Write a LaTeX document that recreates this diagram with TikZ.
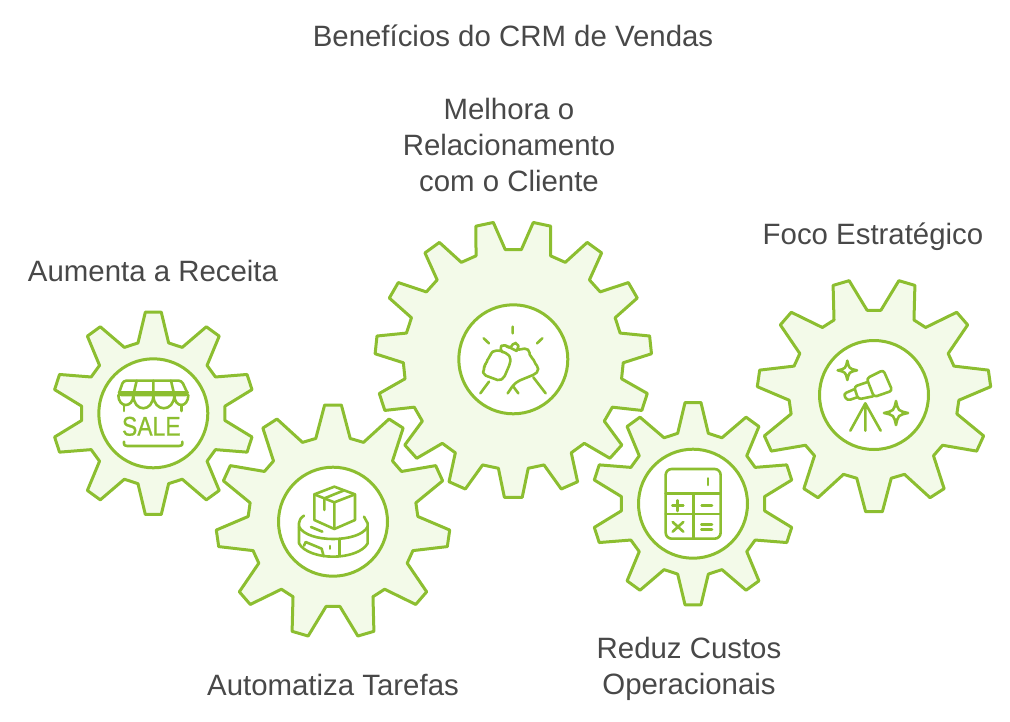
\documentclass[tikz,border=0pt]{standalone}
\usepackage{fontspec}
\setmainfont{Liberation Sans}
\newfontfamily\saleface[FakeBold=0.8]{Liberation Sans}
\usepackage{xcolor}
\usetikzlibrary{positioning, calc}
\definecolor{gearline}{HTML}{8CBE30}
\definecolor{gearfill}{HTML}{F3FAE9}
\definecolor{labeltext}{HTML}{484848}
\tikzset{
  gearbody/.style={draw=gearline, fill=gearfill, line width=3pt, line join=round},
  hubring/.style={draw=gearline, fill=white, line width=3pt, circle, inner sep=0pt, minimum size=109pt},
  iconline/.style={draw=gearline, line width=2.6pt, line cap=round, line join=round},
  gearlabel/.style={text=labeltext, font=\fontsize{29.4}{36}\selectfont, align=center, inner sep=0pt},
  zoomed/.style={x=0.33333pt, y=-0.33333pt, shift={(#1)}}
}
% one wheel: centre x, centre y, teeth, tip radius, root radius, tip half angle, root half angle, first tooth
\newcommand{\gearwheel}[8]{
  \draw[gearbody, shift={(#1,#2)}] (#8-#7:#5)
    \foreach \k [evaluate=\k as \c using {#8+\k*360/#3}] in {1,...,#3} {
      -- (\c-#7-360/#3:#5) -- (\c-#6-360/#3:#4) -- (\c+#6-360/#3:#4) -- (\c+#7-360/#3:#5)
    } -- cycle;
}
\newcommand{\sparkle}[3]{
  \draw[iconline] (#1,#2-#3) .. controls (#1+.18*#3,#2-.18*#3) .. (#1+#3,#2)
    .. controls (#1+.18*#3,#2+.18*#3) .. (#1,#2+#3)
    .. controls (#1-.18*#3,#2+.18*#3) .. (#1-#3,#2)
    .. controls (#1-.18*#3,#2-.18*#3) .. cycle;
}
\begin{document}
\begin{tikzpicture}[x=1pt, y=-1pt]
  \useasboundingbox (0,0) rectangle (1010,721);

  \node[gearlabel] at (513,36) (title) {Benefícios do CRM de Vendas};
  \node[gearlabel] at (509,145) (melhora) {Melhora o\\Relacionamento\\com o Cliente};
  \node[gearlabel] at (873,237) (foco) {Foco Estratégico};
  \node[gearlabel] at (153,271) (aumenta) {Aumenta a Receita};
  \node[gearlabel] at (333,685) (automatiza) {Automatiza Tarefas};
  \node[gearlabel] at (689,669) (reduz) {Reduz Custos\\Operacionais};

  \gearwheel{153.3}{413.3}{10}{101.5}{72}{4.5}{12.3}{-90}
  \gearwheel{333}{521.7}{11}{117}{85}{4.1}{11.7}{-90}
  \gearwheel{513.3}{359.3}{15}{138.3}{110}{3.7}{7.8}{90}
  \gearwheel{693}{503.7}{10}{101.5}{72}{4.5}{12.3}{-90}
  \gearwheel{874}{395}{11}{117}{85}{4.1}{11.7}{90}

  \node[hubring] at (153.3,413.3) (hubsale) {};
  \node[hubring] at (333,521.7) (hubbox) {};
  \node[hubring] at (513.3,359.3) (hubhands) {};
  \node[hubring] at (693,503.7) (hubcalc) {};
  \node[hubring] at (874,395) (hubscope) {};

  % shop
  \begin{scope}[zoomed={40pt,-300pt}]
    \draw[iconline, rounded corners=3pt] (250,242) -- (425,242) -- (445,285) -- (235,285) -- cycle;
    \draw[iconline] (237,278) -- (443,278);
    \draw[iconline] (290,242) -- (280,285) (340,242) -- (340,285) (393,242) -- (403,285);
    \draw[iconline] (235,285) .. controls (235,325) and (280,325) .. (280,285)
      .. controls (280,338) and (340,338) .. (340,285)
      .. controls (340,338) and (403,338) .. (403,285)
      .. controls (403,325) and (445,325) .. (445,285);
    \draw[iconline] (252,315) -- (252,333) (425,315) -- (425,333);
    \draw[iconline] (252,425) .. controls (252,436) .. (262,438) -- (417,438) .. controls (427,436) .. (427,425);
    \node[text=gearline, font=\saleface\fontsize{27}{27}\selectfont, xscale=0.85, inner sep=0pt] at (334,379) (salemark) {SALE};
  \end{scope}

  % parcel on a ring
  \begin{scope}[zoomed={205pt,-395pt}]
    \draw[iconline] (388,275) -- (450,298) -- (450,375) -- (388,402) -- (328,375) -- (328,298) -- cycle;
    \draw[iconline] (328,298) -- (388,322) -- (450,298) (388,322) -- (388,402);
    \draw[iconline] (358,345) -- (358,310) -- (415,287);
    \draw[iconline] (297,362) .. controls (286,370) .. (282,385) -- (282,445)
      .. controls (295,470) and (340,485) .. (384,485)
      .. controls (430,485) and (475,470) .. (488,445) -- (488,385) .. controls (485,375) .. (477,365);
    \draw[iconline] (282,395) .. controls (295,420) and (340,432) .. (384,432)
      .. controls (430,432) and (475,420) .. (488,395);
    \draw[iconline] (404,432) -- (404,482);
    \draw[iconline] (318,396) -- (352,410);
    \draw[iconline] (297,452) -- (302,441) -- (350,461) -- (356,484);
    \draw[iconline] (375,453) -- (375,461);
  \end{scope}

  % clasped hands
  \begin{scope}[zoomed={370pt,-215pt}]
    \draw[iconline] (428,335) -- (428,355) (341,370) -- (357,385) (517,370) -- (501,385);
    \draw[iconline, rounded corners=2pt] (362,412) -- (385,405) -- (412,416) -- (422,428) -- (420,446) -- (402,488)
      -- (388,497) -- (342,480) -- (338,465) -- (346,458) -- (342,450) -- (351,445) -- (352,430) -- (362,425) -- cycle;
    \draw[iconline, rounded corners=2pt] (398,412) -- (389,398) -- (400,388) -- (420,400) -- (432,383) -- (442,385) -- (447,400) -- (438,406);
    \draw[iconline] (408,392) -- (440,408);
    \draw[iconline, rounded corners=2pt] (445,404) -- (470,400) -- (478,408) -- (480,425) -- (490,430) -- (493,442)
      -- (504,456) -- (505,468) -- (494,478) -- (445,498) -- (430,510) -- (413,535);
    \draw[iconline] (430,515) -- (445,535);
    \draw[iconline] (357,500) -- (331,535) (490,487) -- (527,535);
  \end{scope}

  % calculator
  \begin{scope}[zoomed={585pt,-395pt}]
    \draw[iconline, rounded corners=6pt] (242,222) rectangle (407,431);
    \draw[iconline] (242,295) -- (407,295) (242,357) -- (407,357) (325,295) -- (325,431);
    \draw[iconline] (369,250) -- (369,270);
    \draw[iconline] (262,332) -- (295,332) (278,316) -- (278,348);
    \draw[iconline] (350,332) -- (381,332);
    \draw[iconline] (263,381) -- (295,410) (295,381) -- (263,410);
    \draw[iconline] (349,388) -- (381,388) (349,404) -- (381,404);
  \end{scope}

  % telescope and stars
  \begin{scope}[zoomed={750pt,-270pt}]
    \draw[iconline, rounded corners=3pt] (350,325) -- (400,300) -- (427,362) -- (372,381) -- cycle;
    \draw[iconline, rounded corners=3pt] (350,337) -- (312,350) -- (325,388) -- (369,379);
    \draw[iconline, rounded corners=3pt] (312,358) -- (280,372) -- (292,392) -- (324,381);
    \draw[iconline] (301,482) -- (346,400) -- (392,482) (346,400) -- (346,482);
    \sparkle{292}{301}{29}
    \sparkle{438}{429}{36}
  \end{scope}
\end{tikzpicture}
\end{document}
